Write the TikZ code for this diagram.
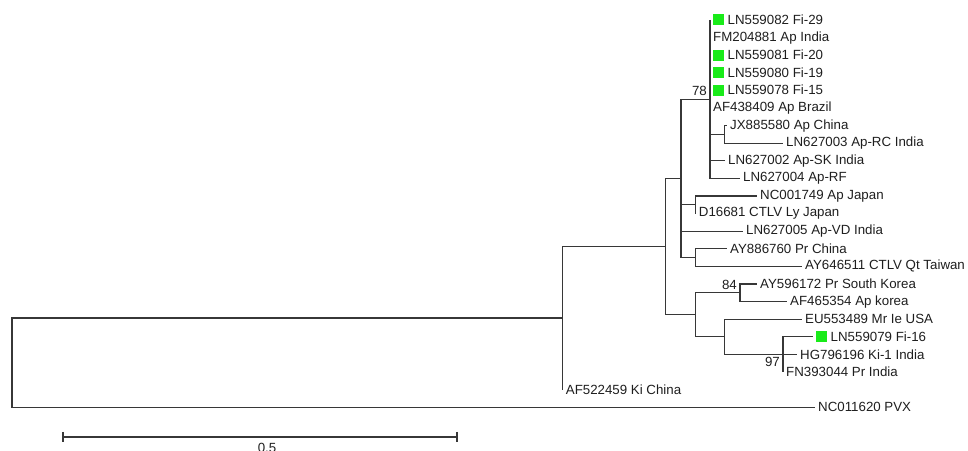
\documentclass[tikz,border=0pt]{standalone}
\usepackage{fontspec}
\setmainfont{Liberation Sans}
\usepackage{tikz}
\usetikzlibrary{positioning,calc}
\definecolor{branchcolor}{RGB}{55,55,55}
\definecolor{labelcolor}{RGB}{30,30,30}
\definecolor{isolatecolor}{RGB}{25,235,25}
\newcommand{\isolatebox}{\textcolor{isolatecolor}{\rule[-1pt]{10.5pt}{11pt}}\hspace{4pt}}

\begin{document}
\begin{tikzpicture}[x=1pt, y=-17.6pt,
    every node/.style={font=\fontsize{13.3}{16}\selectfont, text=labelcolor},
    branch/.style={draw=branchcolor, line width=1.3pt},
    taxon/.style={anchor=west, inner xsep=3pt, inner ysep=1pt},
    boot/.style={inner sep=3pt}]
    \useasboundingbox (0,-0.136) rectangle (968,25.432);
    % internal nodes
    \coordinate (root) at (12,20.47);
    \coordinate (ingroup) at (562.7,17.94);
    \coordinate (cladeA) at (665.7,13.875);
    \coordinate (cladeB) at (681,10);
    \coordinate (clade78) at (710,5.5);
    \coordinate (cladeJX) at (724.5,7.5);
    \coordinate (cladeJP) at (695.7,11.5);
    \coordinate (cladeTW) at (695.7,14.5);
    \coordinate (cladeE) at (695.7,17.75);
    \coordinate (clade84) at (740,16.5);
    \coordinate (cladeG) at (724.5,19);
    \coordinate (clade97) at (783,20);
    % taxa
    \node[taxon] (t01) at (710,1) {\isolatebox LN559082 Fi-29};
    \node[taxon] (t02) at (710,2) {FM204881 Ap India};
    \node[taxon] (t03) at (710,3) {\isolatebox LN559081 Fi-20};
    \node[taxon] (t04) at (710,4) {\isolatebox LN559080 Fi-19};
    \node[taxon] (t05) at (710,5) {\isolatebox LN559078 Fi-15};
    \node[taxon] (t06) at (710,6) {AF438409 Ap Brazil};
    \node[taxon] (t07) at (727,7) {JX885580 Ap China};
    \node[taxon] (t08) at (783,8) {LN627003 Ap-RC India};
    \node[taxon] (t09) at (725,9) {LN627002 Ap-SK India};
    \node[taxon] (t10) at (740,10) {LN627004 Ap-RF};
    \node[taxon] (t11) at (757,11) {NC001749 Ap Japan};
    \node[taxon] (t12) at (695.7,12) {D16681 CTLV Ly Japan};
    \node[taxon] (t13) at (743,13) {LN627005 Ap-VD India};
    \node[taxon] (t14) at (727,14) {AY886760 Pr China};
    \node[taxon] (t15) at (802,15) {AY646511 CTLV Qt Taiwan};
    \node[taxon] (t16) at (757,16) {AY596172 Pr South Korea};
    \node[taxon] (t17) at (787,17) {AF465354 Ap korea};
    \node[taxon] (t18) at (802,18) {EU553489 Mr Ie USA};
    \node[taxon] (t19) at (813,19) {\isolatebox LN559079 Fi-16};
    \node[taxon] (t20) at (797,20) {HG796196 Ki-1 India};
    \node[taxon] (t21) at (783,21) {FN393044 Pr India};
    \node[taxon] (t22) at (562.7,22) {AF522459 Ki China};
    \node[taxon] (t23) at (815,23) {NC011620 PVX};
    % backbone
    \draw[branch] (root) |- (ingroup);
    \draw[branch] (root) |- (t23.west);
    \draw[branch] (ingroup) |- (cladeA);
    \draw[branch] (ingroup) |- (t22.west);
    \draw[branch] (cladeA) |- (cladeB);
    \draw[branch] (cladeA) |- (cladeE);
    % upper clade
    \draw[branch] (cladeB) |- (clade78);
    \draw[branch] (cladeB) |- (cladeJP);
    \draw[branch] (cladeB) |- (t13.west);
    \draw[branch] (cladeB) |- (cladeTW);
    \draw[branch] (clade78) |- (t01.west);
    \draw[branch] (clade78) |- (t10.west);
    \draw[branch] (clade78) |- (cladeJX);
    \draw[branch] (clade78) |- (t09.west);
    \draw[branch] (cladeJX) |- (t07.west);
    \draw[branch] (cladeJX) |- (t08.west);
    \draw[branch] (cladeJP) |- (t11.west);
    \draw[branch] (cladeJP) |- (t12.west);
    \draw[branch] (cladeTW) |- (t14.west);
    \draw[branch] (cladeTW) |- (t15.west);
    % lower clade
    \draw[branch] (cladeE) |- (clade84);
    \draw[branch] (cladeE) |- (cladeG);
    \draw[branch] (clade84) |- (t16.west);
    \draw[branch] (clade84) |- (t17.west);
    \draw[branch] (cladeG) |- (t18.west);
    \draw[branch] (cladeG) |- (clade97);
    \draw[branch] (clade97) |- (t19.west);
    \draw[branch] (clade97) |- (t20.west);
    \draw[branch] (clade97) |- (t21.west);
    % bootstrap values
    \node[boot, anchor=south east] (b78) at (clade78) {78};
    \node[boot, anchor=south east] (b84) at (clade84) {84};
    \node[boot, anchor=north east] (b97) at (clade97) {97};
    % scale bar
    \coordinate (bar0) at (63,24.69);
    \coordinate (bar1) at (457,24.69);
    \draw[branch] (bar0) -- (bar1);
    \draw[branch] ([yshift=5pt]bar0) -- ([yshift=-5pt]bar0);
    \draw[branch] ([yshift=5pt]bar1) -- ([yshift=-5pt]bar1);
    \node[boot, anchor=north] (barlabel) at ([xshift=7pt,yshift=-3pt]$(bar0)!0.5!(bar1)$) {0.5};
\end{tikzpicture}
\end{document}
